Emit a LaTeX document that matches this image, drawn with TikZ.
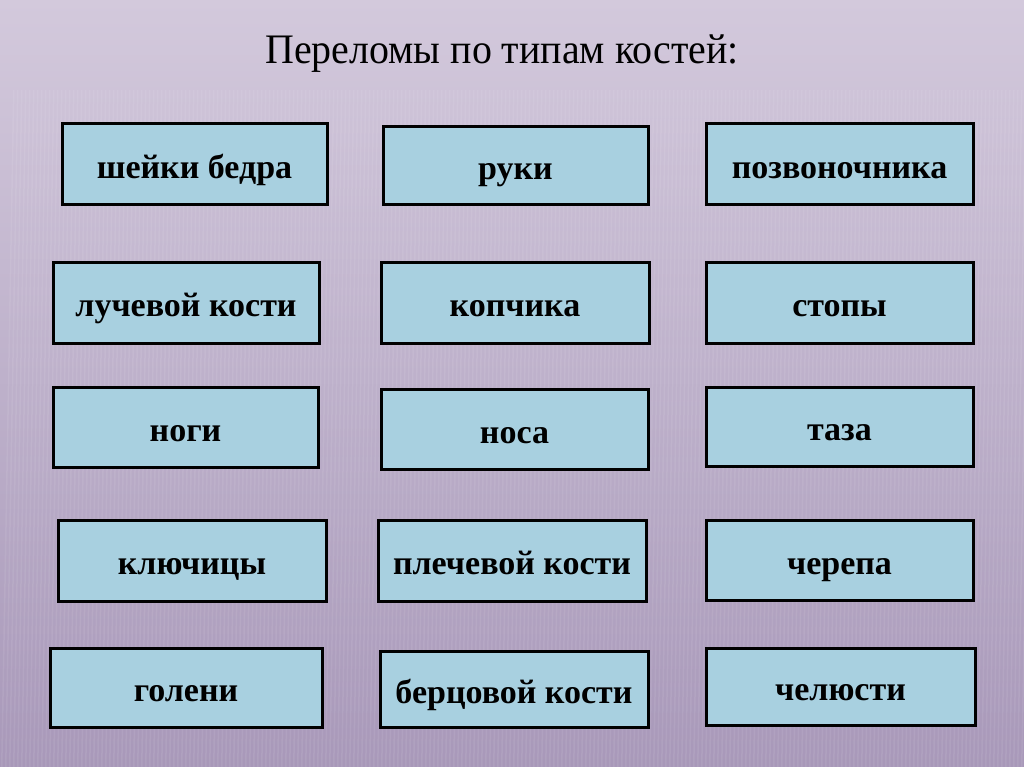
\documentclass[tikz,border=0pt]{standalone}
\usepackage{fontspec}
\setmainfont{Liberation Serif}
\definecolor{bgtop}{HTML}{D3C9DC}
\definecolor{bgbot}{HTML}{A898B9}
\definecolor{boxfill}{HTML}{A8D0E0}
\tikzset{
  cell/.style={draw=black, line width=3pt, fill=boxfill, inner sep=0pt,
    text height=28pt, text depth=0pt,
    font=\fontsize{34}{40}\selectfont\bfseries},
}
\newcommand{\cellbox}[6]{%
  \node[cell, minimum width=#4-#2, minimum height=#5-#3] (#1) at ({(#2+#4)/2},{(#3+#5)/2}) {#6};}
\begin{document}
\begin{tikzpicture}[x=1pt,y=-1pt]
\useasboundingbox (0,0) rectangle (1024,767);
\shade[top color=bgtop, bottom color=bgbot] (0,0) rectangle (1024,767);
\begin{scope}
\clip (0,90) rectangle (1024,767);
\foreach \i in {0,...,256}{
  \fill[white, opacity=0.08] (\i*4+1,767) -- (\i*4+2.5,767) -- (\i*4+2.5+12,90) -- (\i*4+1+12,90) -- cycle;
}
\end{scope}
\node[font=\fontsize{42}{48}\selectfont] (title) at (502,54) {\scalebox{0.95}[1]{Переломы по типам костей:}};
\cellbox{a1}{62}{124}{327}{205}{шейки бедра}
\cellbox{a2}{383}{127}{648}{205}{руки}
\cellbox{a3}{706}{124}{973}{205}{позвоночника}
\cellbox{b1}{53}{262}{319}{343}{лучевой кости}
\cellbox{b2}{381}{262}{649}{343}{копчика}
\cellbox{b3}{706}{262}{973}{343}{стопы}
\cellbox{c1}{53}{387}{318}{467}{ноги}
\cellbox{c2}{381}{389}{648}{469}{носа}
\cellbox{c3}{706}{387}{973}{466}{таза}
\cellbox{d1}{58}{520}{326}{601}{ключицы}
\cellbox{d2}{378}{520}{646}{601}{плечевой кости}
\cellbox{d3}{706}{520}{973}{600}{черепа}
\cellbox{e1}{50}{648}{322}{727}{голени}
\cellbox{e2}{380}{651}{648}{727}{берцовой кости}
\cellbox{e3}{706}{648}{975}{725}{челюсти}
\end{tikzpicture}
\end{document}
